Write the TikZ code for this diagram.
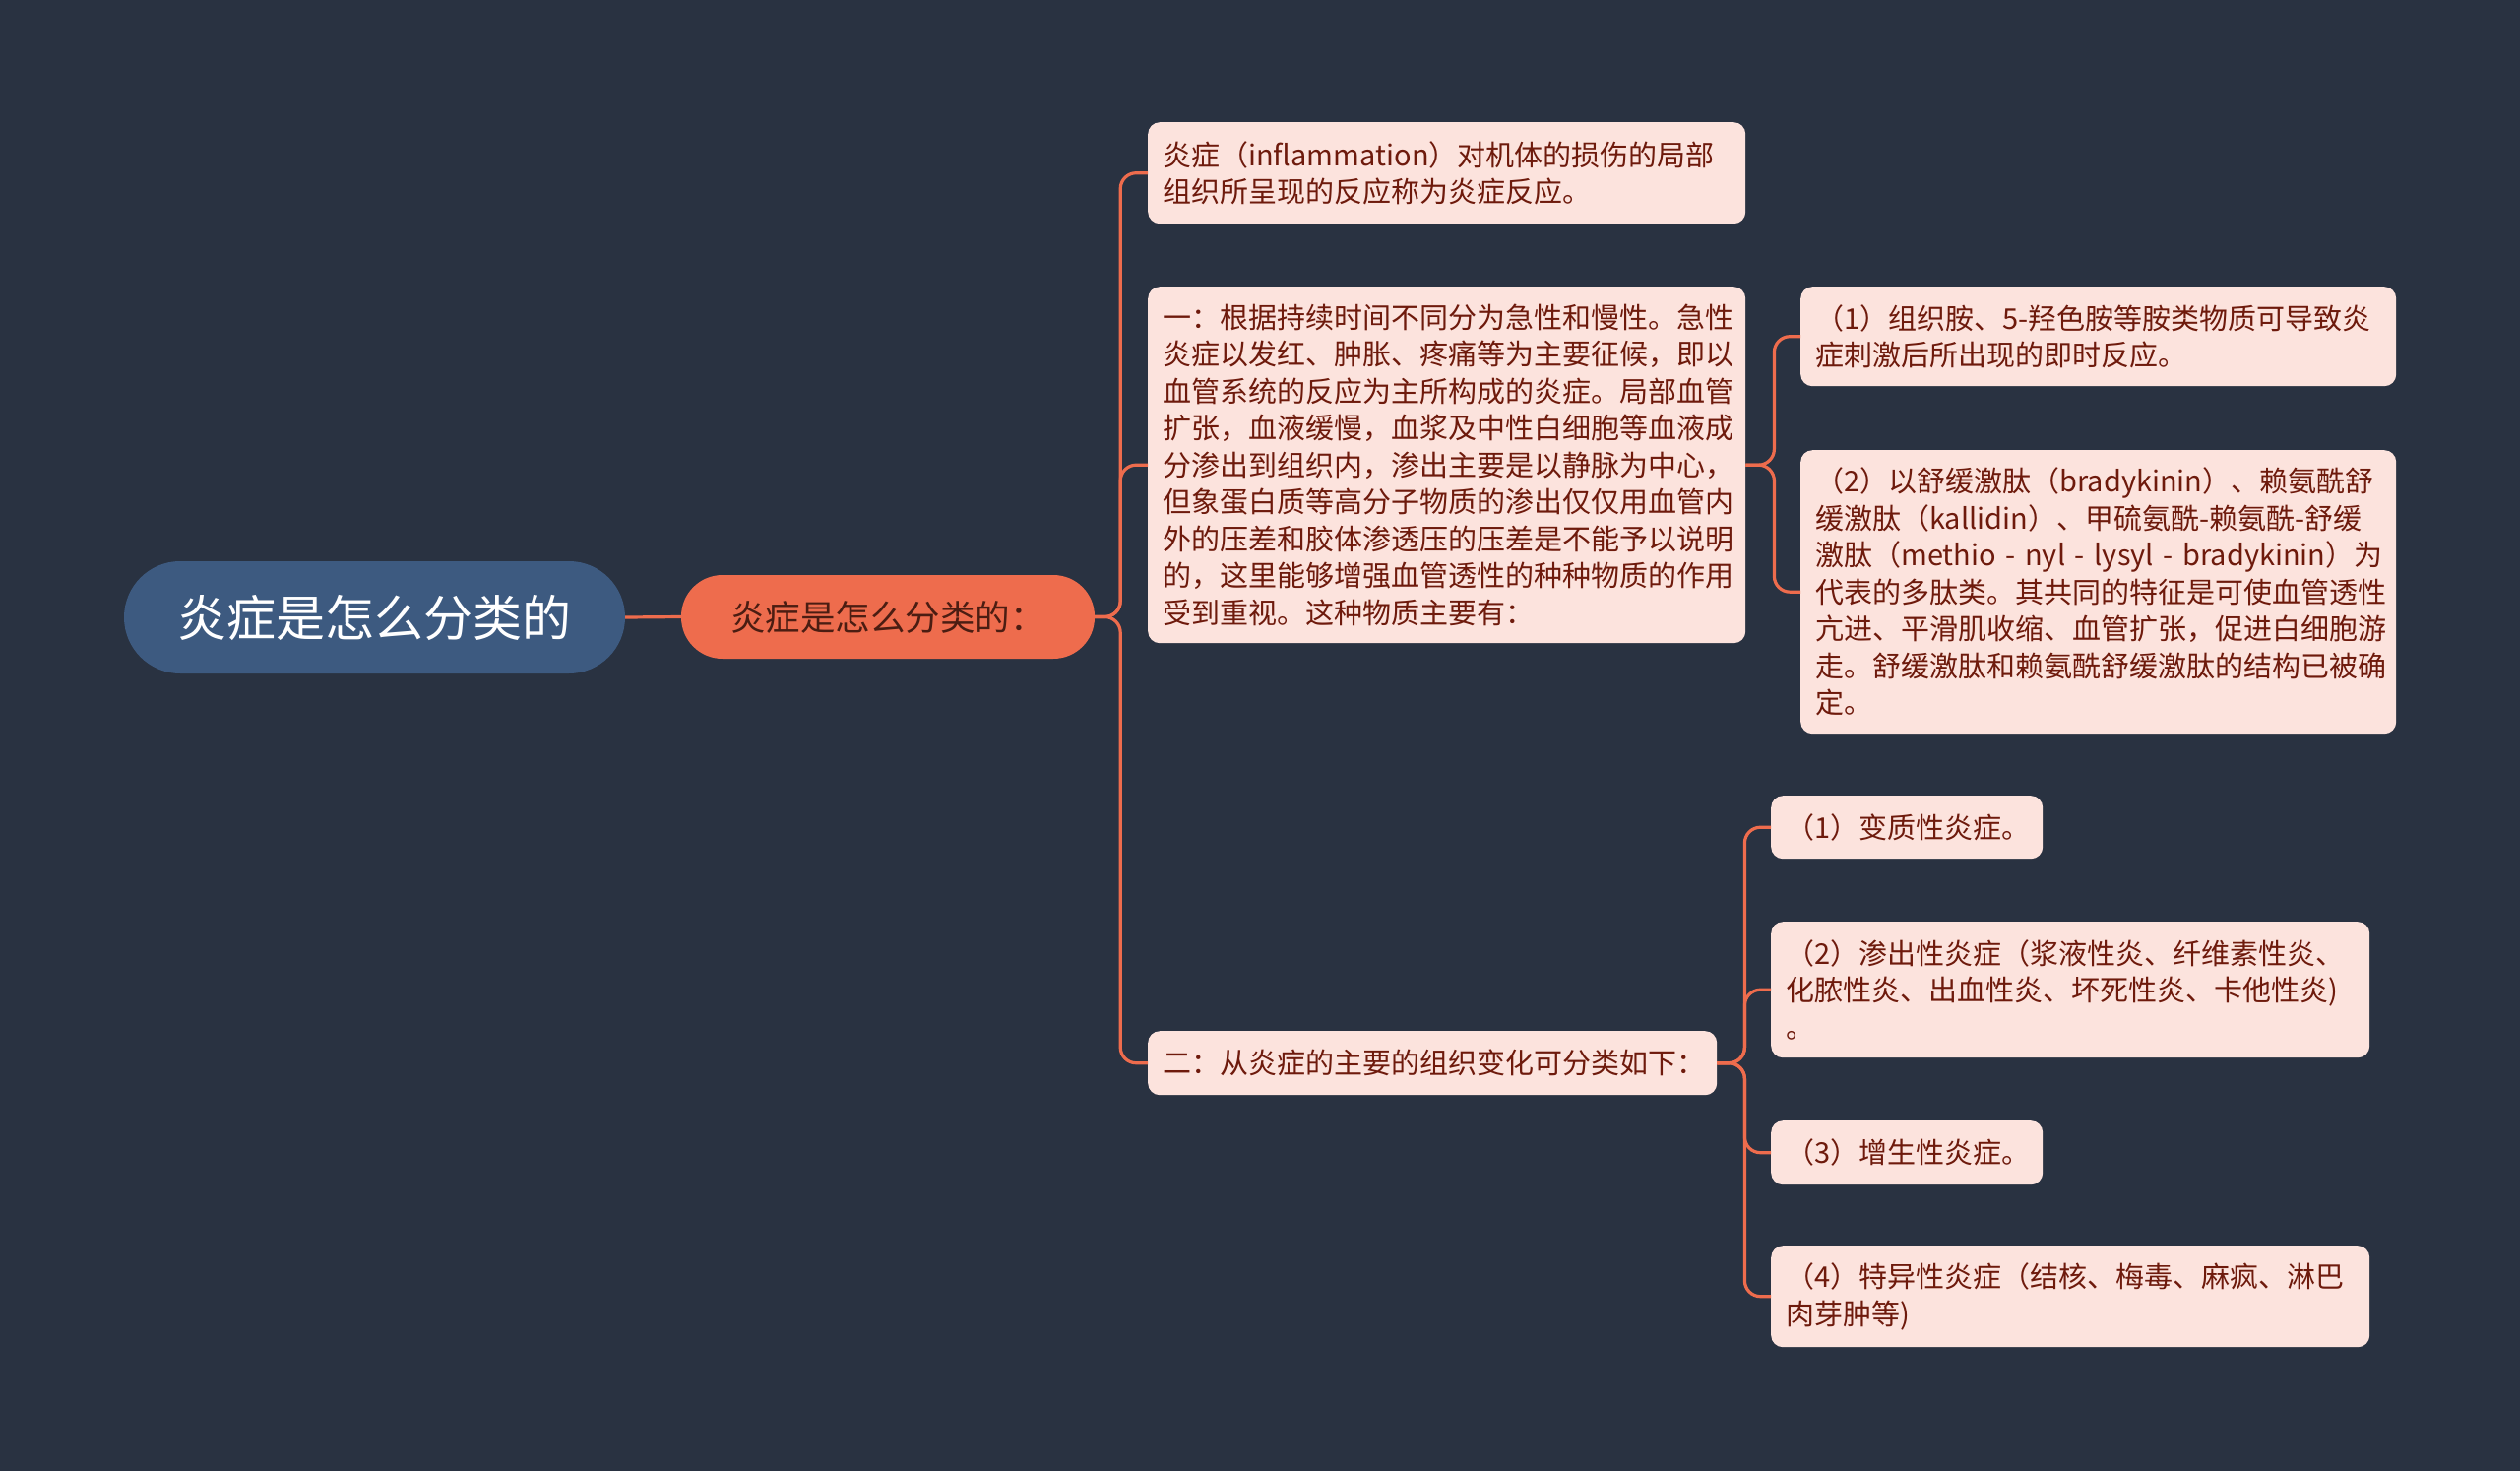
\documentclass[tikz,border=0pt]{standalone}
\usepackage{fontspec}
\setmainfont{Noto Sans CJK SC}
\definecolor{bg}{HTML}{293241}
\definecolor{rootfill}{HTML}{3D5A80}
\definecolor{midfill}{HTML}{EE6C4D}
\definecolor{midtext}{HTML}{4B1D12}
\definecolor{leaffill}{HTML}{FCE3DD}
\definecolor{leaftext}{HTML}{6E1A0C}
\definecolor{linkcol}{HTML}{EE6C4D}
\newcommand{\leaffont}{\fontsize{29}{37.5}\selectfont}
\tikzset{
  leaf/.style={fill=leaffill, text=leaftext, rounded corners=12pt, anchor=north west,
    inner xsep=15pt, inner ysep=0pt, align=left, font=\leaffont},
  rootnode/.style={fill=rootfill, text=white, rounded corners=57pt, inner sep=0pt,
    minimum width=509pt, minimum height=114pt, font=\fontsize{50}{58}\selectfont},
  midnode/.style={fill=midfill, text=midtext, rounded corners=42pt, inner sep=0pt,
    minimum width=420pt, minimum height=85pt, font=\fontsize{35.5}{42}\selectfont},
  link/.style={draw=linkcol, line width=3.2pt, rounded corners=16pt},
}
\begin{document}
\begin{tikzpicture}[x=1pt, y=-1pt]
\fill[bg] (0,0) rectangle (2560,1494);
\useasboundingbox (0,0) rectangle (2560,1494);

\node[rootnode] (root) at (380.5,627) {炎症是怎么分类的};
\node[midnode] (mid) at (902,626.5) {炎症是怎么分类的：};

\node[leaf, text width=577pt, minimum height=103pt] (A) at (1166,124)
  {炎症（inflammation）对机体的损伤的局部\\组织所呈现的反应称为炎症反应。};
\node[leaf, text width=577pt, minimum height=362pt] (B) at (1166,291)
  {一：根据持续时间不同分为急性和慢性。急性\\
   炎症以发红、肿胀、疼痛等为主要征候，即以\\
   血管系统的反应为主所构成的炎症。局部血管\\
   扩张，血液缓慢，血浆及中性白细胞等血液成\\
   分渗出到组织内，渗出主要是以静脉为中心，\\
   但象蛋白质等高分子物质的渗出仅仅用血管内\\
   外的压差和胶体渗透压的压差是不能予以说明\\
   的，这里能够增强血管透性的种种物质的作用\\
   受到重视。这种物质主要有：};
\node[leaf, text width=548pt, minimum height=65pt] (C) at (1166,1047)
  {二：从炎症的主要的组织变化可分类如下：};

\node[leaf, text width=575pt, minimum height=101pt] (B1) at (1829,291)
  {（1）组织胺、5-羟色胺等胺类物质可导致炎\\症刺激后所出现的即时反应。};
\node[leaf, text width=575pt, minimum height=288pt] (B2) at (1829,457)
  {（2）以舒缓激肽（bradykinin）、赖氨酰舒\\
   缓激肽（kallidin）、甲硫氨酰-赖氨酰-舒缓\\
   \mbox{激肽（methio - nyl - lysyl - bradykinin）为}\\
   代表的多肽类。其共同的特征是可使血管透性\\
   亢进、平滑肌收缩、血管扩张，促进白细胞游\\
   走。舒缓激肽和赖氨酰舒缓激肽的结构已被确\\
   定。};

\node[leaf, text width=246pt, minimum height=64pt] (C1) at (1799,808)
  {（1）变质性炎症。};
\node[leaf, text width=578pt, minimum height=138pt] (C2) at (1799,936)
  {（2）渗出性炎症（浆液性炎、纤维素性炎、\\化脓性炎、出血性炎、坏死性炎、卡他性炎)\\。};
\node[leaf, text width=246pt, minimum height=65pt] (C3) at (1799,1138)
  {（3）增生性炎症。};
\node[leaf, text width=578pt, minimum height=103pt] (C4) at (1799,1265)
  {（4）特异性炎症（结核、梅毒、麻疯、淋巴\\肉芽肿等)};

\draw[link] (root.east) -- (mid.west);
\foreach \t in {A,B,C} {
  \draw[link] (mid.east) -- ++(26,0) |- (\t.west);
}
\foreach \t in {B1,B2} {
  \draw[link] (B.east) -- ++(29,0) |- (\t.west);
}
\foreach \t in {C1,C2,C3,C4} {
  \draw[link] (C.east) -- ++(28,0) |- (\t.west);
}
\end{tikzpicture}
\end{document}
